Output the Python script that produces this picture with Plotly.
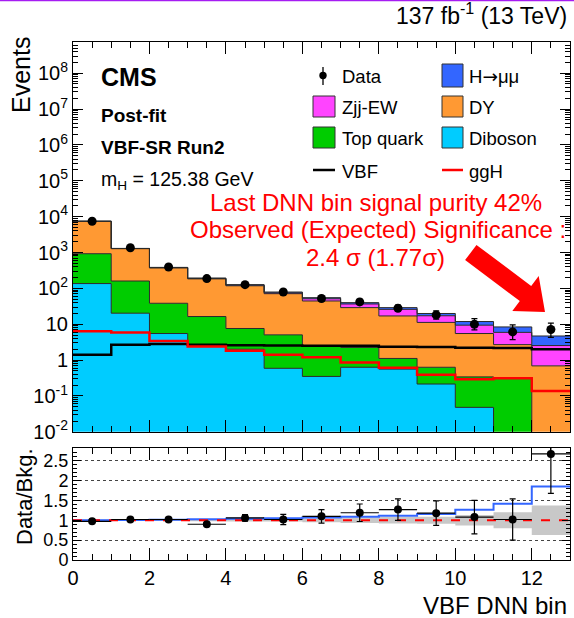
import numpy as np
import plotly.graph_objects as go

# ---------------- data ----------------
bin_edges = list(range(0, 14))
bin_centers = [b + 0.5 for b in range(13)]

diboson = [136, 20.3, 5.5, 2.7, 2.0, 0.59, 0.35, 0.63, 0.56, 0.215, 0.048, 0.0, 0.0]
top_quark = [789, 140, 32.9, 13.7, 5.6, 4.47, 2.05, 1.62, 0.55, 0.415, 0.292, 0.31, 0.0]
drell_yan = [6500, 1119, 333, 167.5, 110.5, 66, 42.1, 26.8, 15.9, 10.6, 5.16, 2.39, 0.69]
zjj_ew = [25, 12, 7, 5, 4.5, 4.0, 6.8, 7.6, 9.0, 6.0, 3.9, 3.23, 1.85]
vbf = [1.40, 2.66, 2.79, 2.66, 2.61, 2.56, 2.50, 2.50, 2.37, 2.30, 2.20, 2.16, 2.02]
ggh = [6.4, 5.9, 3.38, 2.40, 1.81, 1.40, 1.19, 0.86, 0.61, 0.39, 0.29, 0.31, 0.137]

data = [7460, 1360, 393, 187, 127, 79, 52, 41.8, 27.9, 18.2, 10.0, 6.1, 7.1]
data_err_up = [88, 38, 21, 14.5, 12, 9.5, 8, 7.5, 6.3, 5.3, 4.4, 3.5, 3.6]
data_err_dn = [86, 36, 19.5, 13.5, 11, 8.5, 7, 6.3, 5.2, 4.2, 3.05, 2.4, 2.8]

ratio_obs = [0.975, 1.02, 1.02, 0.90, 1.06, 1.02, 1.10, 1.19, 1.27, 1.18, 1.08, 1.02, 2.67]
ratio_err_up = [0.01, 0.02, 0.03, 0.04, 0.08, 0.13, 0.17, 0.22, 0.27, 0.31, 0.42, 0.52, 1.5]
ratio_err_dn = [0.01, 0.02, 0.03, 0.04, 0.08, 0.13, 0.17, 0.22, 0.27, 0.31, 0.42, 0.52, 0.99]
bkg_rel_unc = [0.02, 0.02, 0.02, 0.025, 0.03, 0.03, 0.05, 0.07, 0.08, 0.09, 0.13, 0.2, 0.37]

log_ticks = [-2, -1, 0, 1, 2, 3, 4, 5, 6, 7, 8]
ratio_ticks = [0, 0.5, 1, 1.5, 2, 2.5]
x_ticks = [0, 2, 4, 6, 8, 10, 12]

# ---------------- colours ----------------
C_SIG = "#3366ff"
C_ZJJ = "#ff44ff"
C_DY = "#ff9933"
C_TOP = "#00cc00"
C_DIB = "#00ccff"
FONT = "Liberation Sans, Arial, sans-serif"

# ---------------- page geometry ----------------
W, H = 574, 618
ML, MR, MT, MB = 73, 4, 42, 58
PW, PH = W - ML - MR, H - MT - MB


def px(x):
    return (x - ML) / PW


def py(y):
    return 1 - (y - MT) / PH


def step(v):
    v = list(v)
    return v + [v[-1]]


signal = np.array(vbf) + np.array(ggh)
bkg = np.array(diboson) + np.array(top_quark) + np.array(drell_yan) + np.array(zjj_ew)

fig = go.Figure()

# ---------------- stacked histogram ----------------
FLOOR = 1e-5
fig.add_trace(go.Scatter(x=bin_edges, y=[FLOOR] * 14, mode="lines",
                         line=dict(width=0, shape="hv"), hoverinfo="skip",
                         showlegend=False, xaxis="x", yaxis="y"))
cum = np.zeros(13)
for vals, col in [(diboson, C_DIB), (top_quark, C_TOP), (drell_yan, C_DY),
                  (zjj_ew, C_ZJJ), (signal, C_SIG)]:
    cum = cum + np.array(vals)
    fig.add_trace(go.Scatter(x=bin_edges, y=step(np.maximum(cum, FLOOR)), mode="lines",
                             line=dict(color="#2a2a2a", width=1, shape="hv"),
                             fill="tonexty", fillcolor=col, showlegend=False,
                             xaxis="x", yaxis="y"))

# signal components as overlaid lines
fig.add_trace(go.Scatter(x=bin_edges, y=step(vbf), mode="lines",
                         line=dict(color="black", width=2.5, shape="hv"),
                         showlegend=False, xaxis="x", yaxis="y"))
fig.add_trace(go.Scatter(x=bin_edges, y=step(ggh), mode="lines",
                         line=dict(color="#ff0000", width=2.5, shape="hv"),
                         showlegend=False, xaxis="x", yaxis="y"))

# observed data
fig.add_trace(go.Scatter(x=bin_centers, y=data, mode="markers",
                         marker=dict(color="black", size=9),
                         error_y=dict(type="data", array=data_err_up, arrayminus=data_err_dn,
                                      color="black", thickness=1.3, width=3),
                         showlegend=False, xaxis="x", yaxis="y"))

# ---------------- ratio panel ----------------
fig.add_trace(go.Scatter(x=bin_edges, y=step(1 - np.array(bkg_rel_unc)), mode="lines",
                         line=dict(width=0, shape="hv"), showlegend=False,
                         hoverinfo="skip", xaxis="x2", yaxis="y2"))
fig.add_trace(go.Scatter(x=bin_edges, y=step(1 + np.array(bkg_rel_unc)), mode="lines",
                         line=dict(width=0, shape="hv"), fill="tonexty",
                         fillcolor="#c8c8c8", showlegend=False, xaxis="x2", yaxis="y2"))
fig.add_trace(go.Scatter(x=bin_edges, y=step((bkg + signal) / bkg), mode="lines",
                         line=dict(color=C_SIG, width=2, shape="hv"),
                         showlegend=False, xaxis="x2", yaxis="y2"))
fig.add_trace(go.Scatter(x=[bin_edges[0], bin_edges[-1]], y=[1, 1], mode="lines",
                         line=dict(color="#ff0000", width=2, dash="dash"),
                         showlegend=False, xaxis="x2", yaxis="y2"))
fig.add_trace(go.Scatter(x=bin_centers, y=ratio_obs, mode="markers",
                         marker=dict(color="black", size=8),
                         error_x=dict(type="constant", value=0.5, color="black",
                                      thickness=1.2, width=0),
                         error_y=dict(type="data", array=ratio_err_up, arrayminus=ratio_err_dn,
                                      color="black", thickness=1.2, width=3),
                         showlegend=False, xaxis="x2", yaxis="y2"))

# ---------------- axes ----------------
main_dom = [py(431.8), 1]
ratio_dom = [0, py(448)]
axis_common = dict(showline=True, linecolor="black", linewidth=1, mirror="allticks",
                   ticks="inside", tickcolor="black", zeroline=False, showgrid=False,
                   tickfont=dict(family=FONT, size=20, color="black"))

minor_log = [k * 10 ** e for e in range(-2, 9) for k in range(2, 10)]

fig.update_layout(
    width=W, height=H, autosize=False,
    margin=dict(l=ML, r=MR, t=MT, b=MB),
    paper_bgcolor="white", plot_bgcolor="white",
    xaxis=dict(axis_common, domain=[0, 1], range=[0, 13], anchor="y",
               tickvals=x_ticks, ticklen=12, showticklabels=False,
               minor=dict(dtick=0.5, tick0=0, ticklen=6, ticks="inside", tickcolor="black")),
    yaxis=dict(axis_common, domain=main_dom, type="log", range=[-2, 8.87], anchor="x",
               tickvals=[10.0 ** e for e in log_ticks],
               ticktext=["1" if e == 0 else ("10" if e == 1 else "10<sup>%d</sup>" % e)
                         for e in log_ticks],
               ticklen=10,
               minor=dict(tickmode="array", tickvals=minor_log, ticklen=5,
                          ticks="inside", tickcolor="black")),
    xaxis2=dict(axis_common, domain=[0, 1], range=[0, 13], anchor="y2",
                tickvals=x_ticks, ticktext=[str(t) for t in x_ticks], ticklen=12,
                minor=dict(dtick=0.5, tick0=0, ticklen=6, ticks="inside", tickcolor="black")),
    yaxis2=dict(axis_common, domain=ratio_dom, range=[0, 2.82], anchor="x2",
                tickvals=ratio_ticks, ticktext=["0", "0.5", "1", "1.5", "2", "2.5"],
                tickfont=dict(family=FONT, size=18, color="black"),
                ticklen=8, showgrid=True, gridcolor="#444", gridwidth=1, griddash="dot",
                minor=dict(dtick=0.1, tick0=0, ticklen=4, ticks="inside", tickcolor="black")),
)

# ---------------- text ----------------
ann = []


def text(x, y, s, size, xanchor="left", color="black", angle=0, yanchor="middle"):
    ann.append(dict(x=px(x), y=py(y), xref="paper", yref="paper", text=s, showarrow=False,
                    xanchor=xanchor, yanchor=yanchor, textangle=angle,
                    font=dict(family=FONT, size=size, color=color)))


text(569, 14, "137 fb<sup>-1</sup> (13 TeV)", 23, xanchor="right")
text(99, 77, "<b>CMS</b>", 25)
text(99, 116, "<b>Post-fit</b>", 19)
text(99, 147, "<b>VBF-SR Run2</b>", 19)
text(99, 180, "m<sub>H</sub> = 125.38 GeV", 19.5)

text(376, 202, "Last DNN bin signal purity 42%", 24, xanchor="center", color="#ff0000")
text(378, 229, "Observed (Expected) Significance :", 24, xanchor="center", color="#ff0000")
text(375, 257, "2.4 σ (1.77σ)", 24, xanchor="center", color="#ff0000")

text(21, 35, "Events", 25, xanchor="center", angle=-90, yanchor="top")
text(24, 497, "Data/Bkg.", 22, xanchor="center", angle=-90)
text(569, 605, "VBF DNN bin", 24, xanchor="right")

# legend entries
LEG = 18.5
text(340, 77, "Data", LEG)
text(467, 77, "H<span style=\"font-family:DejaVu Sans\">→</span>μμ", LEG)
text(340, 108, "Zjj-EW", LEG)
text(467, 108, "DY", LEG)
text(340, 139, "Top quark", LEG)
text(467, 139, "Diboson", LEG)
text(340, 171, "VBF", LEG)
text(467, 171, "ggH", LEG)

shapes = []


def rect(x0, y0, x1, y1, col):
    shapes.append(dict(type="rect", xref="paper", yref="paper",
                       x0=px(x0), x1=px(x1), y0=py(y1), y1=py(y0),
                       fillcolor=col, line=dict(color="#333", width=1)))


def seg(x0, y0, x1, y1, col, w):
    shapes.append(dict(type="line", xref="paper", yref="paper",
                       x0=px(x0), x1=px(x1), y0=py(y0), y1=py(y1),
                       line=dict(color=col, width=w)))


rect(442, 64, 463, 87, C_SIG)
rect(313, 96, 335, 117, C_ZJJ)
rect(442, 96, 463, 117, C_DY)
rect(313, 127, 335, 148, C_TOP)
rect(442, 127, 463, 148, C_DIB)
seg(313, 170, 335, 170, "black", 2.5)
seg(442, 170, 463, 170, "#ff0000", 2.5)
seg(323, 67, 323, 85, "black", 1.3)
shapes.append(dict(type="circle", xref="paper", yref="paper",
                   x0=px(319.3), x1=px(326.7), y0=py(79.2), y1=py(71.8),
                   fillcolor="black", line=dict(color="black", width=0)))

# red arrow pointing at the last bin
arrow_pts = [(476.5, 244.9), (531.2, 285.9), (538.7, 275.9), (545, 312),
             (512.3, 311.1), (519.8, 301.1), (465.1, 260.1)]
path = "M " + " L ".join("%.5f,%.5f" % (px(a), py(b)) for a, b in arrow_pts) + " Z"
shapes.append(dict(type="path", xref="paper", yref="paper", path=path,
                   fillcolor="#ff0000", line=dict(color="#ff0000", width=0)))

# thin frame line along the top of the page
seg(0, 0.6, W, 0.6, "#a61cf2", 1.5)

fig.update_layout(annotations=ann, shapes=shapes)

fig.write_html("out.html")
